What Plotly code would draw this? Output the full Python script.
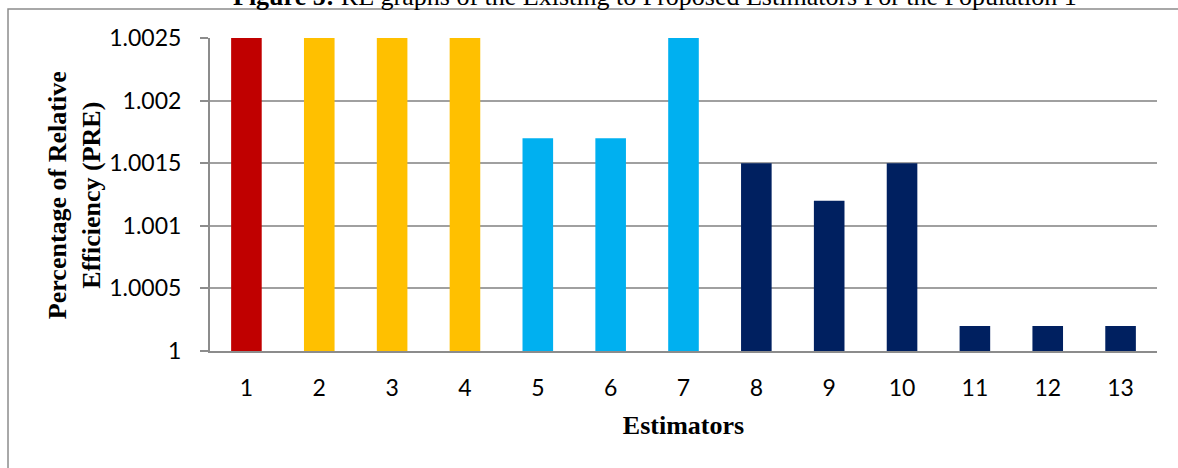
import plotly.graph_objects as go

estimators = [str(i) for i in range(1, 14)]
pre_values = [1.0025, 1.0025, 1.0025, 1.0025, 1.0017, 1.0017, 1.0025,
              1.0015, 1.0012, 1.0015, 1.0002, 1.0002, 1.0002]
bar_colors = ["#C00000", "#FFC000", "#FFC000", "#FFC000", "#00B0F0", "#00B0F0",
              "#00B0F0", "#002060", "#002060", "#002060", "#002060", "#002060", "#002060"]
y_ticks = [1, 1.0005, 1.001, 1.0015, 1.002, 1.0025]
y_tick_text = ["1", "1.0005", "1.001", "1.0015", "1.002", "1.0025"]

fig = go.Figure(go.Bar(x=estimators, y=pre_values, marker_color=bar_colors,
                       marker_line_width=0))

fig.update_layout(
    width=1178, height=468,
    margin=dict(l=210, r=21, t=38, b=117),
    paper_bgcolor="white", plot_bgcolor="white",
    bargap=0.58,
    showlegend=False,
    font=dict(family="Lato, Open Sans, sans-serif", color="#000000", size=23),
)

fig.update_xaxes(
    type="category",
    showline=True, linecolor="#8C8C8C", linewidth=2,
    ticks="", tickfont=dict(size=23), ticklabelstandoff=15,
    title=dict(text="<b>Estimators</b>", font=dict(family="Liberation Serif", size=26),
               standoff=16),
)
fig.update_yaxes(
    range=[1, 1.0025],
    tickvals=y_ticks, ticktext=y_tick_text,
    showgrid=True, gridcolor="#A0A0A0", gridwidth=1.5,
    showline=True, linecolor="#8C8C8C", linewidth=2,
    ticks="outside", ticklen=8, tickcolor="#8C8C8C", tickwidth=1.5,
    tickfont=dict(size=23), ticklabelstandoff=14,
    zeroline=False,
)

# Rotated two-line axis title
fig.add_annotation(
    text="<b>Percentage of Relative<br>Efficiency (PRE)</b>",
    xref="paper", yref="paper", x=-0.1436, y=0.498,
    xanchor="center", yanchor="middle", textangle=-90, showarrow=False,
    font=dict(family="Liberation Serif", size=26), align="center",
)

# Figure caption, partly above the page edge
fig.add_annotation(
    text="<b>Figure 5:</b> RE graphs of the Existing to Proposed Estimators For the Population 1",
    xref="paper", yref="paper", x=0.47, y=1.0, yshift=25,
    xanchor="center", yanchor="bottom", showarrow=False,
    font=dict(family="Liberation Serif", size=26),
)

# Outer frame of the chart area
fig.add_shape(type="rect", xref="paper", yref="paper",
              x0=-0.2133, x1=1.1, y0=-0.5, y1=1.093,
              line=dict(color="#8C8C8C", width=1.5), fillcolor="rgba(0,0,0,0)",
              layer="below")

fig.write_html("out.html")
